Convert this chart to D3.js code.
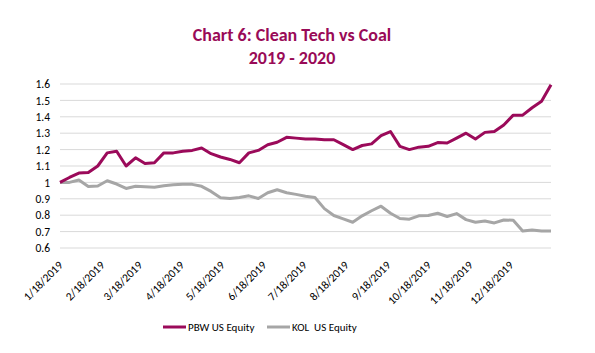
<!DOCTYPE html>
<html>
<head>
<meta charset="utf-8">
<script src="https://cdn.jsdelivr.net/npm/d3@7"></script>
<style>
  body { margin: 0; background: #fff; }
  svg text { font-family: Calibri, Carlito, Lato, sans-serif; fill: #000; }
</style>
</head>
<body>
<div id="chart"></div>
<script>
// weekly dates (Fridays)
const dates = [
  "2019-01-18","2019-01-25","2019-02-01","2019-02-08","2019-02-15","2019-02-22",
  "2019-03-01","2019-03-08","2019-03-15","2019-03-22","2019-03-29",
  "2019-04-05","2019-04-12","2019-04-19","2019-04-26",
  "2019-05-03","2019-05-10","2019-05-17","2019-05-24","2019-05-31",
  "2019-06-07","2019-06-14","2019-06-21","2019-06-28",
  "2019-07-05","2019-07-12","2019-07-19","2019-07-26",
  "2019-08-02","2019-08-09","2019-08-16","2019-08-23","2019-08-30",
  "2019-09-06","2019-09-13","2019-09-20","2019-09-27",
  "2019-10-04","2019-10-11","2019-10-18","2019-10-25",
  "2019-11-01","2019-11-08","2019-11-15","2019-11-22","2019-11-29",
  "2019-12-06","2019-12-13","2019-12-20","2019-12-27",
  "2020-01-03","2020-01-10","2020-01-17"
];

const pbw = [
  1.00, 1.03, 1.057, 1.06, 1.10, 1.18, 1.19, 1.10, 1.15, 1.115, 1.12,
  1.18, 1.18, 1.19, 1.195, 1.21, 1.175, 1.155, 1.14, 1.12,
  1.18, 1.195, 1.23, 1.245, 1.275, 1.27, 1.265, 1.265,
  1.26, 1.26, 1.23, 1.20, 1.225, 1.235, 1.285, 1.31, 1.22,
  1.20, 1.215, 1.22, 1.243, 1.24, 1.27, 1.30, 1.265, 1.305,
  1.31, 1.35, 1.41, 1.41, 1.455, 1.495, 1.595
];

const kol = [
  1.00, 1.00, 1.015, 0.975, 0.978, 1.01, 0.99, 0.963, 0.976, 0.973, 0.97,
  0.98, 0.985, 0.988, 0.988, 0.976, 0.945, 0.906, 0.902, 0.908,
  0.918, 0.902, 0.937, 0.955, 0.937, 0.927, 0.916, 0.908,
  0.84, 0.798, 0.778, 0.757, 0.796, 0.827, 0.855, 0.812, 0.78,
  0.776, 0.796, 0.798, 0.812, 0.792, 0.81, 0.773, 0.757, 0.765,
  0.753, 0.771, 0.769, 0.704, 0.71, 0.704, 0.704
];

const tickDates = [
  "2019-01-18","2019-02-18","2019-03-18","2019-04-18","2019-05-18","2019-06-18",
  "2019-07-18","2019-08-18","2019-09-18","2019-10-18","2019-11-18","2019-12-18"
];
const yTicks = [0.6, 0.7, 0.8, 0.9, 1, 1.1, 1.2, 1.3, 1.4, 1.5, 1.6];

const seriesNames = ["PBW US Equity", "KOL  US Equity"];
const seriesColors = ["#9b0a5a", "#a6a6a6"];

const width = 595, height = 353;
const margin = {top: 84, right: 44, bottom: 105, left: 60};

const parse = d3.timeParse("%Y-%m-%d");
const fmt = d3.timeFormat("%-m/%-d/%Y");
const dateObjs = dates.map(parse);

const svg = d3.select("#chart").append("svg")
  .attr("width", width)
  .attr("height", height);

const x = d3.scaleTime()
  .domain(d3.extent(dateObjs))
  .range([margin.left, width - margin.right]);

const y = d3.scaleLinear()
  .domain([0.6, 1.6])
  .range([height - margin.bottom, margin.top]);

// title
const title = svg.append("text")
  .attr("x", 292)
  .attr("y", 41)
  .attr("text-anchor", "middle")
  .style("font-size", "18px")
  .style("font-weight", "bold")
  .style("fill", "#990a57");
title.append("tspan").attr("x", 292).text("Chart 6: Clean Tech vs Coal");
title.append("tspan").attr("x", 292).attr("dy", 23).text("2019 - 2020");

// gridlines
svg.append("g")
  .selectAll("line")
  .data(yTicks)
  .enter().append("line")
  .attr("x1", margin.left)
  .attr("x2", width - margin.right)
  .attr("y1", d => y(d))
  .attr("y2", d => y(d))
  .style("stroke", "#d9d9d9")
  .style("stroke-width", 1);

// y axis labels
const yAxis = d3.axisLeft(y)
  .tickValues(yTicks)
  .tickSize(0)
  .tickPadding(10)
  .tickFormat(d => d3.format("")(+d.toFixed(1)));

svg.append("g")
  .attr("transform", `translate(${margin.left},0)`)
  .call(yAxis)
  .call(g => g.select(".domain").remove())
  .selectAll("text")
  .style("font-size", "11.5px")
  .style("font-family", "Calibri, Carlito, Lato, sans-serif")
  .style("fill", "#000");

// x axis labels
const xAxis = d3.axisBottom(x)
  .tickValues(tickDates.map(parse))
  .tickSize(0)
  .tickFormat(fmt);

svg.append("g")
  .attr("transform", `translate(0,${height - margin.bottom})`)
  .call(xAxis)
  .call(g => g.select(".domain").remove())
  .selectAll("text")
  .style("font-size", "11.5px")
  .style("font-family", "Calibri, Carlito, Lato, sans-serif")
  .style("fill", "#000")
  .style("text-anchor", "end")
  .attr("dy", 0)
  .attr("y", 0)
  .attr("transform", "translate(3,18) rotate(-45)");

// lines
const line = d3.line()
  .x((d, i) => x(dateObjs[i]))
  .y(d => y(d));

[kol, pbw].forEach((s, k) => {
  svg.append("path")
    .datum(s)
    .attr("d", line)
    .style("fill", "none")
    .style("stroke", s === pbw ? seriesColors[0] : seriesColors[1])
    .style("stroke-width", 3)
    .style("stroke-linejoin", "round");
});

// legend
const legendX = [163, 267];
const legend = svg.selectAll(".legend")
  .data(seriesNames)
  .enter().append("g")
  .attr("class", "legend")
  .attr("transform", (d, i) => `translate(${legendX[i]},327)`);

legend.append("line")
  .attr("x1", 0)
  .attr("x2", 23)
  .style("stroke", (d, i) => seriesColors[i])
  .style("stroke-width", 3);

legend.append("text")
  .attr("x", 25)
  .attr("dy", "0.35em")
  .style("font-size", "11px")
  .style("white-space", "pre")
  .text(d => d);
</script>
</body>
</html>
